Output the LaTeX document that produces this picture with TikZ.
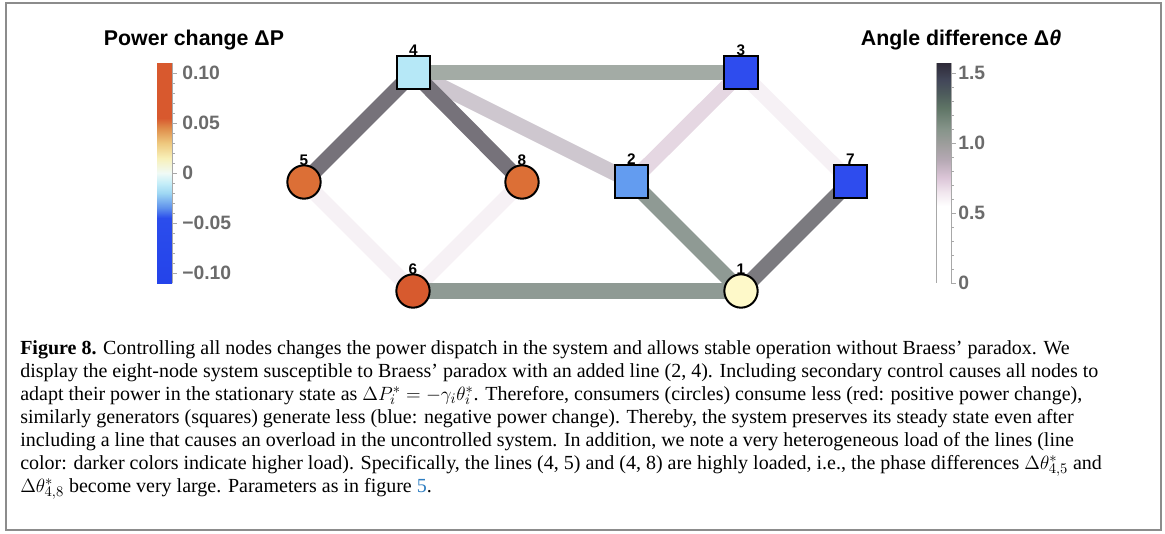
\documentclass[tikz,border=0pt]{standalone}
\usepackage{fontspec}
\setmainfont{Liberation Serif}
\setsansfont{Liberation Sans}
\usetikzlibrary{backgrounds}

% node colours (power change)
\definecolor{nBlue}{HTML}{2E4CEE}
\definecolor{nMidBlue}{HTML}{639CF0}
\definecolor{nCyan}{HTML}{B6E8F7}
\definecolor{nYellow}{HTML}{FEF9C9}
\definecolor{nOrange}{HTML}{DC6F36}
\definecolor{nRed}{HTML}{D75A2E}
% line colours (angle difference)
\definecolor{eDark}{HTML}{76727A}
\definecolor{eDarkB}{HTML}{7B7A7F}
\definecolor{eSage}{HTML}{A3ABA5}
\definecolor{eSageD}{HTML}{8F9A94}
\definecolor{eMauve}{HTML}{CEC7CF}
\definecolor{ePink}{HTML}{E5D7E2}
\definecolor{eFaint}{HTML}{F6F1F5}
% colour bar stops
\definecolor{pOr}{HTML}{D8592E}
\definecolor{pOrB}{HTML}{DF8C4A}
\definecolor{pYelA}{HTML}{EEC87E}
\definecolor{pYelB}{HTML}{F8F0B8}
\definecolor{pWh}{HTML}{F0FAF6}
\definecolor{pCyA}{HTML}{C6EEF8}
\definecolor{pCyB}{HTML}{9FD8F3}
\definecolor{pBlA}{HTML}{5E90EC}
\definecolor{pBl}{HTML}{2B4DEC}
\definecolor{pBlB}{HTML}{2443EA}
\definecolor{aWh}{HTML}{FFFFFF}
\definecolor{aPkA}{HTML}{F1E6EE}
\definecolor{aPkB}{HTML}{DCC6D8}
\definecolor{aGrA}{HTML}{B6A9B4}
\definecolor{aGrB}{HTML}{9C9D9B}
\definecolor{aGnA}{HTML}{86948A}
\definecolor{aGnB}{HTML}{5F7566}
\definecolor{aSlA}{HTML}{4E5C5C}
\definecolor{aSlB}{HTML}{424759}
\definecolor{aDk}{HTML}{2E2A38}
\definecolor{tickgray}{HTML}{A8A8A8}
\definecolor{lblgray}{HTML}{6B6B6B}
\definecolor{framegray}{HTML}{8C8C8C}
\definecolor{linkblue}{HTML}{2F7EC1}

\begin{document}
\begin{tikzpicture}[x=0.75pt, y=-0.75pt,
    gen/.style={rectangle, draw=black, line width=1.5pt, minimum size=25pt, inner sep=0pt},
    load/.style={circle, draw=black, line width=1.5pt, minimum size=25pt, inner sep=0pt},
    every label/.style={font=\sffamily\bfseries\fontsize{11.5}{12}\selectfont, inner sep=0pt},
    label distance=-1pt,
    line/.style={line width=11.5pt},
    tick/.style={draw=tickgray, line width=0.6pt},
    ticklbl/.style={anchor=west, text=lblgray, inner sep=0pt, font=\sffamily\bfseries\fontsize{14.5}{16}\selectfont},
    bartitle/.style={anchor=base, inner sep=0pt, font=\sffamily\bfseries\fontsize{16}{19}\selectfont}]

    \useasboundingbox (0,0) rectangle (1165,533);
    \draw[framegray, line width=1.1pt] (6,3) rectangle (1161,530);

    % network
    \node[gen, fill=nCyan, label=above:4] (n4) at (413.5,72.5) {};
    \node[gen, fill=nBlue, label=above:3] (n3) at (741,72.5) {};
    \node[gen, fill=nMidBlue, label=above:2] (n2) at (631.5,181.5) {};
    \node[gen, fill=nBlue, label=above:7] (n7) at (850.5,181.5) {};
    \node[load, fill=nOrange, label=above:5] (n5) at (304,182) {};
    \node[load, fill=nOrange, label=above:8] (n8) at (522,182) {};
    \node[load, fill=nRed, label=above:6] (n6) at (413,291) {};
    \node[load, fill=nYellow, label=above:1] (n1) at (741,291) {};

    \begin{scope}[on background layer]
        \draw[line, eFaint] (n5.center) -- (n6.center);
        \draw[line, eFaint] (n8.center) -- (n6.center);
        \draw[line, eFaint] (n3.center) -- (n7.center);
        \draw[line, ePink] (n2.center) -- (n3.center);
        \draw[line, eMauve] (n4.center) -- (n2.center);
        \draw[line, eSage] (n4.center) -- (n3.center);
        \draw[line, eSageD] (n6.center) -- (n1.center);
        \draw[line, eSageD] (n2.center) -- (n1.center);
        \draw[line, eDarkB] (n7.center) -- (n1.center);
        \draw[line, eDark] (n4.center) -- (n5.center);
        \draw[line, eDark] (n4.center) -- (n8.center);
    \end{scope}

    % power change bar
    \node[bartitle] (ttlP) at (194,45) {Power change ΔP};
    \foreach \ya/\yb/\ca/\cb in {63/118/pOr/pOr, 118/128/pOr/pOrB, 128/143/pOrB/pYelA,
        143/158/pYelA/pYelB, 158/173/pYelB/pWh, 173/183/pWh/pCyA, 183/193/pCyA/pCyB,
        193/208/pCyB/pBlA, 208/218/pBlA/pBl, 218/283/pBl/pBlB}
        \shade[top color=\ca, bottom color=\cb] (157,\ya) rectangle (172,\yb);
    \draw[tick] (172,63) -- (172,283);
    \foreach \k in {0,...,20}
        \draw[tick] (172,73+10*\k) -- ++(2.5,0);
    \foreach \y in {73,123,173,223,273}
        \draw[tick] (172,\y) -- ++(4.5,0);
    \node[ticklbl] (p1) at (182,73) {0.10};
    \node[ticklbl] (p2) at (182,123) {0.05};
    \node[ticklbl] (p3) at (182,173) {0};
    \node[ticklbl] (p4) at (182,223) {−0.05};
    \node[ticklbl] (p5) at (182,273) {−0.10};

    % angle difference bar
    \node[bartitle] (ttlA) at (961,45) {Angle difference Δ\textit{θ}};
    \foreach \ya/\yb/\ca/\cb in {206/283/aWh/aWh, 192/206/aPkA/aWh, 178/192/aPkB/aPkA,
        160/178/aGrA/aPkB, 143/160/aGrB/aGrA, 129/143/aGnA/aGrB, 108/129/aGnB/aGnA,
        94/108/aSlA/aGnB, 80/94/aSlB/aSlA, 63/80/aDk/aSlB}
        \shade[top color=\ca, bottom color=\cb] (936,\ya) rectangle (951,\yb);
    \draw[tick] (936,63) -- (936,283);
    \draw[tick] (951,63) -- (951,283);
    \foreach \k in {0,...,15}
        \draw[tick] (951,283-14*\k) -- ++(2.5,0);
    \foreach \y in {73,143,213,283}
        \draw[tick] (951,\y) -- ++(4.5,0);
    \node[ticklbl] (a1) at (958,73) {1.5};
    \node[ticklbl] (a2) at (958,143) {1.0};
    \node[ticklbl] (a3) at (958,213) {0.5};
    \node[ticklbl] (a4) at (958,283) {0};

    % caption
    \node[anchor=north west, align=left, inner sep=0pt, font=\fontsize{15}{17.25}\selectfont] (cap) at (20,340) {%
        \textbf{Figure 8.} Controlling all nodes changes the power dispatch in the system and allows stable operation without Braess' paradox. We\\
        display the eight-node system susceptible to Braess' paradox with an added line (2, 4). Including secondary control causes all nodes to\\
        adapt their power in the stationary state as $\Delta P_i^{*}=-\gamma_i\theta_i^{*}$. Therefore, consumers (circles) consume less (red: positive power change),\\
        similarly generators (squares) generate less (blue: negative power change). Thereby, the system preserves its steady state even after\\
        including a line that causes an overload in the uncontrolled system. In addition, we note a very heterogeneous load of the lines (line\\
        color: darker colors indicate higher load). Specifically, the lines (4, 5) and (4, 8) are highly loaded, i.e., the phase differences $\Delta\theta^{*}_{4,5}$ and\\
        $\Delta\theta^{*}_{4,8}$ become very large. Parameters as in figure \textcolor{linkblue}{5}.};
\end{tikzpicture}
\end{document}
